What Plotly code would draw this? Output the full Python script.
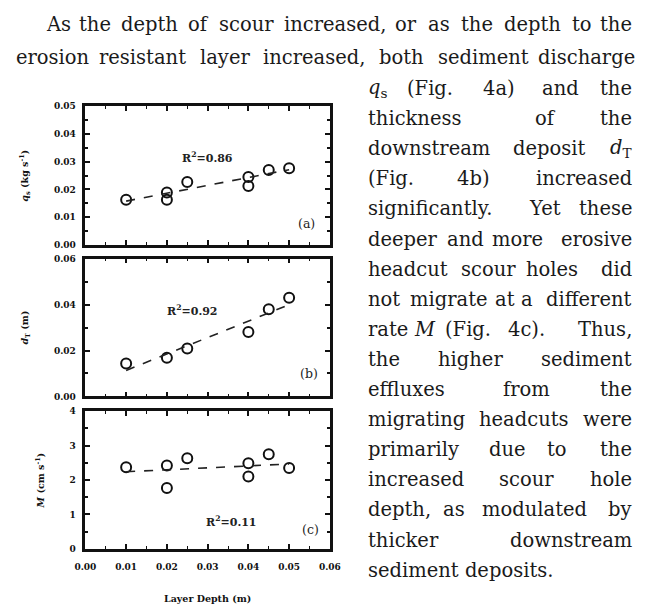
import numpy as np
import plotly.graph_objects as go

# ---------------- data ----------------
layer_depth = [0.01, 0.02, 0.02, 0.025, 0.04, 0.04, 0.045, 0.05]
qs_values = [0.0163, 0.0189, 0.0163, 0.0227, 0.0245, 0.0213, 0.0270, 0.0277]

dt_depth = [0.01, 0.02, 0.025, 0.04, 0.045, 0.05]
dt_values = [0.0143, 0.0168, 0.0209, 0.0281, 0.0380, 0.0430]

m_depth = [0.01, 0.02, 0.02, 0.025, 0.04, 0.04, 0.045, 0.05]
m_values = [2.37, 2.42, 1.77, 2.63, 2.49, 2.10, 2.75, 2.35]

r2_labels = ["R<sup>2</sup>=0.86", "R<sup>2</sup>=0.92", "R<sup>2</sup>=0.11"]
panel_labels = ["(a)", "(b)", "(c)"]
x_ticks = [0.00, 0.01, 0.02, 0.03, 0.04, 0.05, 0.06]
x_tick_text = ["0.00", "0.01", "0.02", "0.03", "0.04", "0.05", "0.06"]

# ---------------- page text ----------------
para_line1 = "As the depth of scour increased, or as the depth to the"
para_line2 = "erosion resistant layer increased, both sediment discharge"
column_lines = [
    [("<i>q</i><sub>s</sub>", 367, 377), ("(Fig.", 412, 455), ("4a)", 487, 523), ("and", 550, 587), ("the", 613, 645)],
    [("thickness", 367, 463), ("of", 543, 563), ("the", 613, 645)],
    [("downstream", 367, 483), ("deposit", 517, 597), ("<i>d</i><sub>T</sub>", 620, 645)],
    [("(Fig.", 367, 417), ("4b)", 458, 500), ("increased", 557, 645)],
    [("significantly.", 367, 507), ("Yet", 535, 570), ("these", 588, 645)],
    [("deeper", 367, 433), ("and", 453, 488), ("more", 500, 548), ("erosive", 553, 645)],
    [("headcut", 367, 450), ("scour", 464, 524), ("holes", 530, 590), ("did", 608, 645)],
    [("not", 367, 400), ("migrate", 414, 493), ("at", 501, 521), ("a", 527, 541), ("different", 547, 645)],
    [("rate", 367, 410), ("<i>M</i>", 420, 437), ("(Fig.", 448, 497), ("4c).", 508, 560), ("Thus,", 580, 645)],
    [("the", 367, 400), ("higher", 442, 510), ("sediment", 560, 645)],
    [("effluxes", 367, 450), ("from", 508, 560), ("the", 612, 645)],
    [("migrating", 367, 467), ("headcuts", 483, 578), ("were", 588, 645)],
    [("primarily", 367, 467), ("due", 495, 533), ("to", 553, 577), ("the", 612, 645)],
    [("increased", 367, 468), ("scour", 507, 560), ("hole", 603, 645)],
    [("depth,", 367, 430), ("as", 446, 470), ("modulated", 489, 595), ("by", 613, 645)],
    [("thicker", 367, 440), ("downstream", 517, 645)],
    [("sediment deposits.", 367, 563)],
]

W, H = 652, 605
X0, X1 = 77, 330
panels = [(103, 244), (258, 398), (413, 553)]
FS = 19.5

# approximate DejaVu Serif advance widths (em) used to justify the first two lines
GLYPH_EM = {
    "a": 0.596, "b": 0.643, "c": 0.560, "d": 0.643, "e": 0.592, "f": 0.372, "g": 0.643, "h": 0.645,
    "i": 0.320, "j": 0.320, "k": 0.608, "l": 0.320, "m": 0.952, "n": 0.645, "o": 0.602, "p": 0.643,
    "q": 0.643, "r": 0.478, "s": 0.512, "t": 0.401, "u": 0.645, "v": 0.569, "w": 0.818, "x": 0.569,
    "y": 0.569, "z": 0.523, ",": 0.318, ".": 0.318, "A": 0.722,
}


def dom_y(top, bot):
    return [1 - bot / H, 1 - top / H]


def px(x):
    return x / W


def py(y):
    return 1 - y / H


fig = go.Figure()

series = [(layer_depth, qs_values), (dt_depth, dt_values), (m_depth, m_values)]
for i, (xs, ys) in enumerate(series):
    ax = "" if i == 0 else str(i + 1)
    fig.add_trace(go.Scatter(
        x=xs, y=ys, mode="markers",
        marker=dict(symbol="circle-open", size=10, color="#111", line=dict(width=2, color="#111")),
        xaxis="x" + ax, yaxis="y" + ax, showlegend=False, hoverinfo="skip"))
    k, b = np.polyfit(xs, ys, 1)
    fx = [min(xs), max(xs)]
    fig.add_trace(go.Scatter(
        x=fx, y=[k * v + b for v in fx], mode="lines",
        line=dict(color="#222", width=1.6, dash="dash"),
        xaxis="x" + ax, yaxis="y" + ax, showlegend=False, hoverinfo="skip"))

tickfont = dict(family="DejaVu Serif", size=9, color="#111", weight="bold")
common_x = dict(range=[0, 0.06], tickvals=x_ticks, ticktext=x_tick_text, ticks="inside", ticklen=5,
                tickwidth=1.5, tickcolor="#111", showline=True, linewidth=2.5, linecolor="#111",
                mirror="allticks", showgrid=False, zeroline=False, tickfont=tickfont,
                minor=dict(ticks="inside", ticklen=3, dtick=0.005, tick0=0, tickcolor="#111", tickwidth=1.2),
                domain=[X0 / W, X1 / W])
common_y = dict(ticks="inside", ticklen=5, tickwidth=1.5, tickcolor="#111", showline=True,
                linewidth=2.5, linecolor="#111", mirror="allticks", showgrid=False, zeroline=False,
                tickfont=tickfont, ticklabelstandoff=5)

titlefont = dict(family="DejaVu Serif", size=9.5, color="#111", weight="bold")
layout = dict(
    width=W, height=H, margin=dict(l=0, r=0, t=0, b=0),
    paper_bgcolor="white", plot_bgcolor="white", showlegend=False,
    xaxis=dict(common_x, anchor="y", showticklabels=False),
    xaxis2=dict(common_x, anchor="y2", showticklabels=False),
    xaxis3=dict(common_x, anchor="y3", showticklabels=True, ticklabelstandoff=8,
                title=dict(text="Layer Depth (m)", font=titlefont, standoff=24)),
    yaxis=dict(common_y, anchor="x", domain=dom_y(*panels[0]), range=[0, 0.05], dtick=0.01,
               tickformat=".2f", minor=dict(ticks="inside", ticklen=3, dtick=0.005, tickcolor="#111"),
               title=dict(text="<i>q</i><sub>s</sub> (kg s<sup>-1</sup>)", font=titlefont, standoff=24)),
    yaxis2=dict(common_y, anchor="x2", domain=dom_y(*panels[1]), range=[0, 0.06], dtick=0.02,
                tickformat=".2f", minor=dict(ticks="inside", ticklen=3, dtick=0.01, tickcolor="#111"),
                title=dict(text="<i>d</i><sub>T</sub> (m)", font=titlefont, standoff=24)),
    yaxis3=dict(common_y, anchor="x3", domain=dom_y(*panels[2]), range=[0, 4], dtick=1,
                minor=dict(ticks="inside", ticklen=3, dtick=0.5, tickcolor="#111"),
                title=dict(text="<i>M</i> (cm s<sup>-1</sup>)", font=titlefont, standoff=24)),
)
fig.update_layout(**layout)

annos = []
r2_pos = [(0.0299, 0.0316), (0.0263, 0.0374), (0.0358, 0.8)]
lab_pos = [(0.0543, 0.0078), (0.0550, 0.0100), (0.0552, 0.57)]
for i in range(3):
    ax = "" if i == 0 else str(i + 1)
    annos.append(dict(x=r2_pos[i][0], y=r2_pos[i][1], xref="x" + ax, yref="y" + ax, text=r2_labels[i],
                      showarrow=False, font=dict(family="DejaVu Serif", size=11, color="#222", weight="bold")))
    annos.append(dict(x=lab_pos[i][0], y=lab_pos[i][1], xref="x" + ax, yref="y" + ax, text=panel_labels[i],
                      showarrow=False, font=dict(family="DejaVu Serif", size=12.5, color="#222")))

body_font = dict(family="DejaVu Serif", size=FS, color="#1a1a1a")


def word_width(w):
    return sum(GLYPH_EM.get(ch, 0.6) for ch in w) * FS


def justify(text, left, right):
    """Spread the words of a line evenly between left and right (justified text)."""
    words = text.split(" ")
    widths = [word_width(w) for w in words]
    gap = (right - left - sum(widths)) / (len(words) - 1)
    out, cur = [], left
    for w, wd in zip(words, widths):
        out.append((w, cur, cur + wd))
        cur += wd + gap
    out[-1] = (out[-1][0], right - widths[-1], right)
    return out


top_lines = [(justify(para_line1, 34, 645), 20), (justify(para_line2, 3, 648), 53)]
all_lines = top_lines + [(words, 85 + li * 30.6) for li, words in enumerate(column_lines)]

for words, yy in all_lines:
    n = len(words)
    for wi, (w, l, r) in enumerate(words):
        if wi == 0:
            xa, xx = "left", l
        elif wi == n - 1:
            xa, xx = "right", r
        else:
            xa, xx = "center", (l + r) / 2
        annos.append(dict(x=px(xx), y=py(yy), xref="paper", yref="paper", text=w, showarrow=False,
                          xanchor=xa, yanchor="middle", font=body_font))

fig.update_layout(annotations=annos)
fig.write_html("out.html", config={"displayModeBar": False},
               post_script="document.body.style.margin='0';")
